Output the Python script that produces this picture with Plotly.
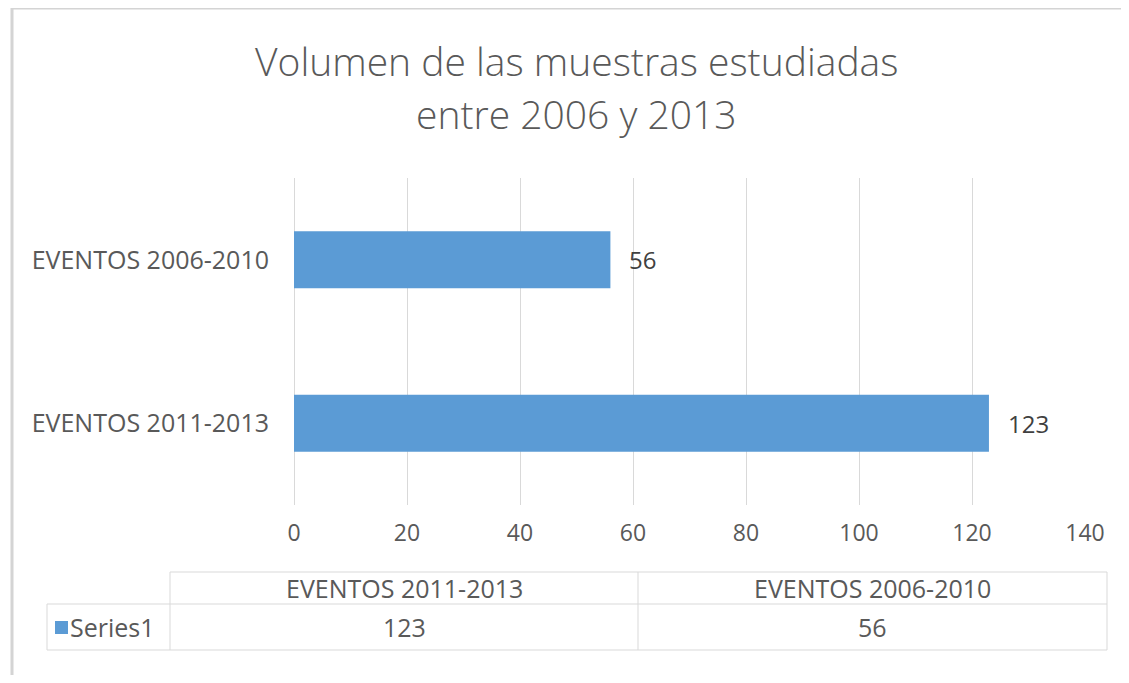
import plotly.graph_objects as go

# data
categories = ["EVENTOS 2011-2013", "EVENTOS 2006-2010"]
values = [123, 56]
series_name = "Series1"
title_lines = ["Volumen de las muestras estudiadas", "entre 2006 y 2013"]
x_ticks = [0, 20, 40, 60, 80, 100, 120, 140]

# the page body has an 8px margin, so the figure is laid out 8px smaller
OFF = 8
W, H = 1129 - OFF, 683 - 2 * OFF
L, R, T, B = 294, 1085, 178, 505  # plot area in reference pixels
BAR_COLOR = "#5b9bd5"
TEXT = "#595959"
GRID = "#d9d9d9"
FONT = "Open Sans"
FS = 23
FS_CAT = 25


def px(x):
    return (x - L) / (R - L)


def py(y):
    return (B - y) / (B - T)


fig = go.Figure()
fig.add_trace(go.Bar(
    y=categories, x=values, orientation="h",
    marker=dict(color=BAR_COLOR, line=dict(width=0)),
    name=series_name,
))

shapes = []
# chart frame (top and left edges visible)
shapes.append(dict(type="line", xref="paper", yref="paper", x0=px(12), x1=px(1140),
                   y0=py(8), y1=py(8), line=dict(color="#d4d4d4", width=3)))
shapes.append(dict(type="line", xref="paper", yref="paper", x0=px(12), x1=px(12),
                   y0=py(8), y1=py(700), line=dict(color="#d4d4d4", width=3)))

# data table grid
tl, c1, c2, tr = 47, 170, 638, 1107
r0, r1, r2 = 572, 604, 650
line_style = dict(color=GRID, width=1)
for (x0, y0, x1, y1) in [
    (c1, r0, tr, r0), (tl, r1, tr, r1), (tl, r2, tr, r2),
    (tl, r1, tl, r2), (c1, r0, c1, r2), (c2, r0, c2, r2), (tr, r0, tr, r2),
]:
    shapes.append(dict(type="line", xref="paper", yref="paper",
                       x0=px(x0), x1=px(x1), y0=py(y0), y1=py(y1), line=line_style))
# legend key in table
shapes.append(dict(type="rect", xref="paper", yref="paper", x0=px(55), x1=px(68),
                   y0=py(634), y1=py(621), fillcolor=BAR_COLOR, line=dict(width=0)))

annotations = []
for i, line in enumerate(title_lines):
    annotations.append(dict(text=line, xref="paper", yref="paper", x=px(576), y=py(60 + 53 * i),
                            showarrow=False, xanchor="center", yanchor="middle",
                            font=dict(size=39, color=TEXT, family=FONT, weight=300)))
# bar value labels
for cat, v in zip(categories, values):
    annotations.append(dict(text=str(v), x=v, y=cat, xref="x", yref="y", showarrow=False,
                            xanchor="left", yanchor="middle", xshift=17,
                            font=dict(size=24, color="#404040", family=FONT)))
col_centers = [(c1 + c2) / 2, (c2 + tr) / 2]
for cx, cat, v in zip(col_centers, categories, values):
    annotations.append(dict(text=cat, xref="paper", yref="paper", x=px(cx), y=py((r0 + r1) / 2),
                            showarrow=False, xanchor="center", yanchor="middle",
                            font=dict(size=FS_CAT, color=TEXT, family=FONT)))
    annotations.append(dict(text=str(v), xref="paper", yref="paper", x=px(cx), y=py((r1 + r2) / 2),
                            showarrow=False, xanchor="center", yanchor="middle",
                            font=dict(size=FS_CAT, color=TEXT, family=FONT)))
annotations.append(dict(text=series_name, xref="paper", yref="paper", x=px(68), y=py((r1 + r2) / 2),
                        showarrow=False, xanchor="left", yanchor="middle",
                        font=dict(size=FS_CAT, color=TEXT, family=FONT)))

fig.update_layout(
    width=W, height=H,
    margin=dict(l=L - OFF, r=W - (R - OFF), t=T - OFF, b=H - (B - OFF)),
    paper_bgcolor="white", plot_bgcolor="white",
    showlegend=False, bargap=0.65,
    font=dict(family=FONT, color=TEXT, size=FS),
    xaxis=dict(range=[0, 140], tickvals=x_ticks, showgrid=True, gridcolor=GRID, gridwidth=1,
               zeroline=True, zerolinecolor=GRID, zerolinewidth=1, showline=False,
               ticks="", ticklabelstandoff=12, tickfont=dict(size=FS, color=TEXT),
               fixedrange=True),
    yaxis=dict(showgrid=False, showline=False, zeroline=False, ticks="",
               ticklabelstandoff=24, tickfont=dict(size=FS_CAT, color=TEXT), fixedrange=True),
    shapes=shapes, annotations=annotations,
)

fig.write_html("out.html")
